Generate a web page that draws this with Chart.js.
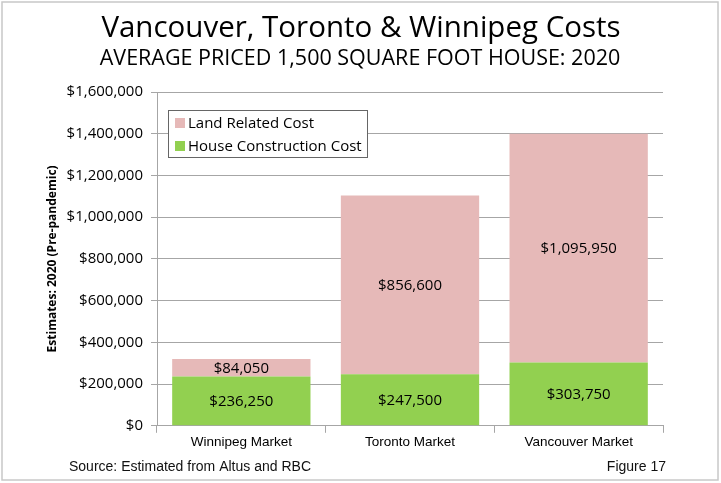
<!DOCTYPE html>
<html>
<head>
<meta charset="utf-8">
<script src="https://cdn.jsdelivr.net/npm/chart.js@4"></script>
<style>
  html, body { margin: 0; padding: 0; background: #fff; }
  #wrap { width: 721px; height: 483px; position: relative; }
</style>
</head>
<body>
<div id="wrap"><canvas id="costChart" width="721" height="483"></canvas></div>
<script>
const markets = ['Winnipeg Market', 'Toronto Market', 'Vancouver Market'];
const houseCost = [236250, 247500, 303750];
const landCost = [84050, 856600, 1095950];
const yTicks = [0, 200000, 400000, 600000, 800000, 1000000, 1200000, 1400000, 1600000];

const LAND = '#E6B9B8';
const HOUSE = '#92D050';
const FONT = "'Open Sans', 'Noto Sans', sans-serif";
const NARROW = "'Liberation Sans', Arial, sans-serif";

const money = v => '$' + v.toLocaleString('en-US');

// frame, titles, legend box, bar labels and footer
const extras = {
  id: 'extras',
  afterDraw(chart) {
    const c = chart.ctx;
    const area = chart.chartArea;
    c.save();

    // outer frame
    c.strokeStyle = '#c8c8c8';
    c.lineWidth = 1.5;
    c.strokeRect(2, 2, 716, 478);

    // titles
    c.fillStyle = '#000';
    c.textAlign = 'center';
    c.textBaseline = 'middle';
    c.font = '29.5px ' + FONT;
    c.fillText('Vancouver, Toronto & Winnipeg Costs', 361, 29);
    c.font = '21.5px ' + FONT;
    c.fillText('AVERAGE PRICED 1,500 SQUARE FOOT HOUSE: 2020', 360, 59);

    // value labels in the middle of each segment
    c.font = '15px ' + FONT;
    chart.data.datasets.forEach((ds, i) => {
      chart.getDatasetMeta(i).data.forEach((bar, j) => {
        const mid = (bar.y + bar.base) / 2;
        c.fillText(money(ds.data[j]), bar.x, mid + 1);
      });
    });

    // legend box
    const lx = area.left + 11, ly = area.top + 18;
    c.fillStyle = '#fff';
    c.fillRect(lx, ly, 199, 47);
    c.strokeStyle = '#666';
    c.lineWidth = 1;
    c.strokeRect(lx + 0.5, ly + 0.5, 199, 47);
    const items = [['Land Related Cost', LAND], ['House Construction Cost', HOUSE]];
    c.textAlign = 'left';
    items.forEach((it, k) => {
      const yy = ly + 13 + k * 23;
      c.fillStyle = it[1];
      c.fillRect(lx + 7, yy - 5, 10, 10);
      c.fillStyle = '#000';
      c.fillText(it[0], lx + 20, yy + 1);
    });

    // y axis title
    c.save();
    c.translate(53, (area.top + area.bottom) / 2);
    c.rotate(-Math.PI / 2);
    c.textAlign = 'center';
    c.font = 'bold 12px ' + FONT;
    c.fillText('Estimates: 2020 (Pre-pandemic)', 0, 0);
    c.restore();

    // footer
    c.font = '14px ' + NARROW;
    c.fillStyle = '#111';
    c.textAlign = 'left';
    c.fillText('Source: Estimated from Altus and RBC', 69, 467);
    c.textAlign = 'right';
    c.fillText('Figure 17', 666, 467);
    c.restore();
  }
};

new Chart(document.getElementById('costChart'), {
  type: 'bar',
  data: {
    labels: markets,
    datasets: [
      { label: 'House Construction Cost', data: houseCost, backgroundColor: HOUSE },
      { label: 'Land Related Cost', data: landCost, backgroundColor: LAND }
    ]
  },
  options: {
    responsive: false,
    animation: false,
    datasets: { bar: { categoryPercentage: 0.82, barPercentage: 1 } },
    layout: { padding: { top: 92, right: 58, bottom: 32, left: 0 } },
    plugins: {
      legend: { display: false },
      tooltip: { enabled: false },
      title: { display: false }
    },
    scales: {
      x: {
        stacked: true,
        grid: { display: true, offset: true, drawOnChartArea: false, drawTicks: true, tickLength: 7, color: '#a6a6a6' },
        border: { color: '#a6a6a6' },
        ticks: {
          color: '#000',
          padding: 1,
          font: { family: NARROW, size: 13.5 }
        }
      },
      y: {
        stacked: true,
        min: 0,
        max: 1600000,
        afterBuildTicks: axis => { axis.ticks = yTicks.map(v => ({ value: v })); },
        afterFit: axis => { axis.width = 157; },
        grid: { color: '#a6a6a6', tickLength: 6 },
        border: { color: '#a6a6a6' },
        ticks: {
          color: '#000',
          padding: 8,
          font: { family: FONT, size: 15 },
          callback: v => money(v)
        }
      }
    }
  },
  plugins: [extras]
});
</script>
</body>
</html>
